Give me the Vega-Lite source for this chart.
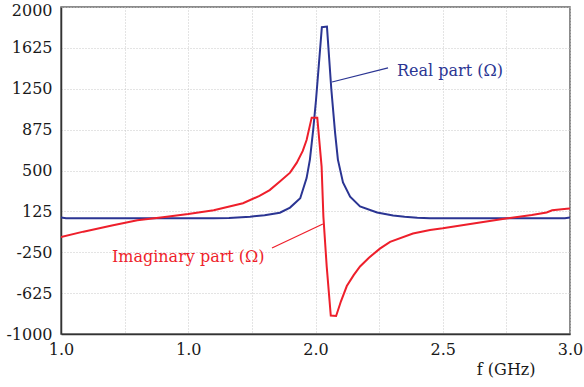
{
  "$schema": "https://vega.github.io/schema/vega-lite/v6.json",
  "width": 509,
  "height": 327,
  "autosize": "none",
  "padding": {"left": 61, "top": 7, "right": 14, "bottom": 53},
  "background": "white",
  "config": {
    "font": "DejaVu Serif",
    "view": {"stroke": "#666666", "strokeWidth": 1.5},
    "axis": {
      "labelFont": "DejaVu Serif",
      "labelFontSize": 16,
      "labelColor": "#1a1a1a",
      "titleFont": "DejaVu Serif",
      "titleFontSize": 16,
      "titleFontWeight": "normal",
      "titleColor": "#1a1a1a",
      "domainColor": "#333333",
      "domainWidth": 1.5,
      "ticks": false,
      "gridColor": "#c8c8c8",
      "gridDash": [1, 2],
      "gridWidth": 1
    }
  },
  "datasets": {
    "curves": [
      {"f": 1.0, "value": 70, "series": "Real"},
      {"f": 1.02, "value": 63, "series": "Real"},
      {"f": 1.2, "value": 63, "series": "Real"},
      {"f": 1.4, "value": 63, "series": "Real"},
      {"f": 1.6, "value": 63, "series": "Real"},
      {"f": 1.66, "value": 65, "series": "Real"},
      {"f": 1.743, "value": 76, "series": "Real"},
      {"f": 1.8, "value": 90, "series": "Real"},
      {"f": 1.86, "value": 113, "series": "Real"},
      {"f": 1.9, "value": 160, "series": "Real"},
      {"f": 1.94, "value": 245, "series": "Real"},
      {"f": 1.965, "value": 430, "series": "Real"},
      {"f": 1.978, "value": 600, "series": "Real"},
      {"f": 1.991, "value": 875, "series": "Real"},
      {"f": 2.002, "value": 1147, "series": "Real"},
      {"f": 2.025, "value": 1815, "series": "Real"},
      {"f": 2.045, "value": 1820, "series": "Real"},
      {"f": 2.062, "value": 1250, "series": "Real"},
      {"f": 2.077, "value": 845, "series": "Real"},
      {"f": 2.088, "value": 600, "series": "Real"},
      {"f": 2.108, "value": 390, "series": "Real"},
      {"f": 2.136, "value": 260, "series": "Real"},
      {"f": 2.175, "value": 170, "series": "Real"},
      {"f": 2.242, "value": 115, "series": "Real"},
      {"f": 2.305, "value": 88, "series": "Real"},
      {"f": 2.35, "value": 75, "series": "Real"},
      {"f": 2.4, "value": 66, "series": "Real"},
      {"f": 2.45, "value": 62, "series": "Real"},
      {"f": 2.6, "value": 62, "series": "Real"},
      {"f": 2.8, "value": 62, "series": "Real"},
      {"f": 2.98, "value": 62, "series": "Real"},
      {"f": 3.0, "value": 70, "series": "Real"},
      {"f": 1.0, "value": -110, "series": "Imaginary"},
      {"f": 1.088, "value": -61, "series": "Imaginary"},
      {"f": 1.2, "value": -5, "series": "Imaginary"},
      {"f": 1.3, "value": 43, "series": "Imaginary"},
      {"f": 1.4, "value": 72, "series": "Imaginary"},
      {"f": 1.5, "value": 100, "series": "Imaginary"},
      {"f": 1.6, "value": 135, "series": "Imaginary"},
      {"f": 1.715, "value": 200, "series": "Imaginary"},
      {"f": 1.78, "value": 267, "series": "Imaginary"},
      {"f": 1.82, "value": 320, "series": "Imaginary"},
      {"f": 1.86, "value": 400, "series": "Imaginary"},
      {"f": 1.9, "value": 480, "series": "Imaginary"},
      {"f": 1.926, "value": 570, "series": "Imaginary"},
      {"f": 1.95, "value": 680, "series": "Imaginary"},
      {"f": 1.965, "value": 780, "series": "Imaginary"},
      {"f": 1.985, "value": 985, "series": "Imaginary"},
      {"f": 2.007, "value": 985, "series": "Imaginary"},
      {"f": 2.024, "value": 535, "series": "Imaginary"},
      {"f": 2.031, "value": 77, "series": "Imaginary"},
      {"f": 2.044, "value": -380, "series": "Imaginary"},
      {"f": 2.06, "value": -830, "series": "Imaginary"},
      {"f": 2.081, "value": -835, "series": "Imaginary"},
      {"f": 2.1, "value": -700, "series": "Imaginary"},
      {"f": 2.123, "value": -560, "series": "Imaginary"},
      {"f": 2.15, "value": -460, "series": "Imaginary"},
      {"f": 2.175, "value": -380, "series": "Imaginary"},
      {"f": 2.21, "value": -300, "series": "Imaginary"},
      {"f": 2.253, "value": -217, "series": "Imaginary"},
      {"f": 2.293, "value": -155, "series": "Imaginary"},
      {"f": 2.383, "value": -78, "series": "Imaginary"},
      {"f": 2.45, "value": -45, "series": "Imaginary"},
      {"f": 2.5, "value": -30, "series": "Imaginary"},
      {"f": 2.646, "value": 22, "series": "Imaginary"},
      {"f": 2.755, "value": 62, "series": "Imaginary"},
      {"f": 2.85, "value": 92, "series": "Imaginary"},
      {"f": 2.908, "value": 115, "series": "Imaginary"},
      {"f": 2.93, "value": 135, "series": "Imaginary"},
      {"f": 2.987, "value": 150, "series": "Imaginary"},
      {"f": 3.0, "value": 152, "series": "Imaginary"}
    ],
    "leaders": [
      {"f": 2.065, "value": 1312, "f2": 2.285, "value2": 1441, "series": "Real"},
      {"f": 1.829, "value": -211, "f2": 2.029, "value2": 9, "series": "Imaginary"}
    ],
    "labels": [
      {"f": 2.32, "value": 1367, "text": "Real part (Ω)", "series": "Real"},
      {"f": 1.2, "value": -339, "text": "Imaginary part (Ω)", "series": "Imaginary"}
    ]
  },
  "layer": [
    {
      "data": {"name": "curves"},
      "mark": {"type": "line", "strokeWidth": 2, "clip": true},
      "encoding": {
        "x": {
          "field": "f", "type": "quantitative",
          "scale": {"domain": [1, 3], "nice": false, "zero": false},
          "axis": {
            "title": "f (GHz)",
            "values": [1, 1.25, 1.5, 1.75, 2, 2.25, 2.5, 2.75, 3],
            "labelExpr": "datum.value == 1.5 ? '1.0' : (datum.value * 4) % 2 == 0 ? format(datum.value, '.1f') : ''",
            "labelPadding": 7,
            "labelFlush": false,
            "titleAlign": "right",
            "titleAnchor": null,
            "titleX": 474,
            "titleY": 40,
            "titleBaseline": "alphabetic"
          }
        },
        "y": {
          "field": "value", "type": "quantitative",
          "scale": {"domain": [-1000, 2000], "nice": false, "zero": false},
          "axis": {
            "title": null,
            "values": [-1000, -625, -250, 125, 500, 875, 1250, 1625, 2000],
            "labelExpr": "'' + datum.value",
            "labelPadding": 9,
            "labelFlush": false,
            "labelOffset": {"condition": {"test": "datum.value == 2000", "value": 3}, "value": 0}
          }
        },
        "color": {
          "field": "series", "type": "nominal",
          "scale": {"domain": ["Real", "Imaginary"], "range": ["#2b3593", "#ee1f2b"]},
          "legend": null
        },
        "order": {"field": "f", "type": "quantitative"}
      }
    },
    {
      "data": {"name": "leaders"},
      "mark": {"type": "rule", "strokeWidth": 1.2},
      "encoding": {
        "x": {"field": "f", "type": "quantitative"},
        "y": {"field": "value", "type": "quantitative"},
        "x2": {"field": "f2"},
        "y2": {"field": "value2"},
        "color": {"field": "series", "type": "nominal", "legend": null}
      }
    },
    {
      "data": {"name": "labels"},
      "mark": {"type": "text", "align": "left", "baseline": "alphabetic", "font": "DejaVu Serif", "fontSize": 16},
      "encoding": {
        "x": {"field": "f", "type": "quantitative"},
        "y": {"field": "value", "type": "quantitative"},
        "text": {"field": "text"},
        "color": {"field": "series", "type": "nominal", "legend": null}
      }
    }
  ]
}
